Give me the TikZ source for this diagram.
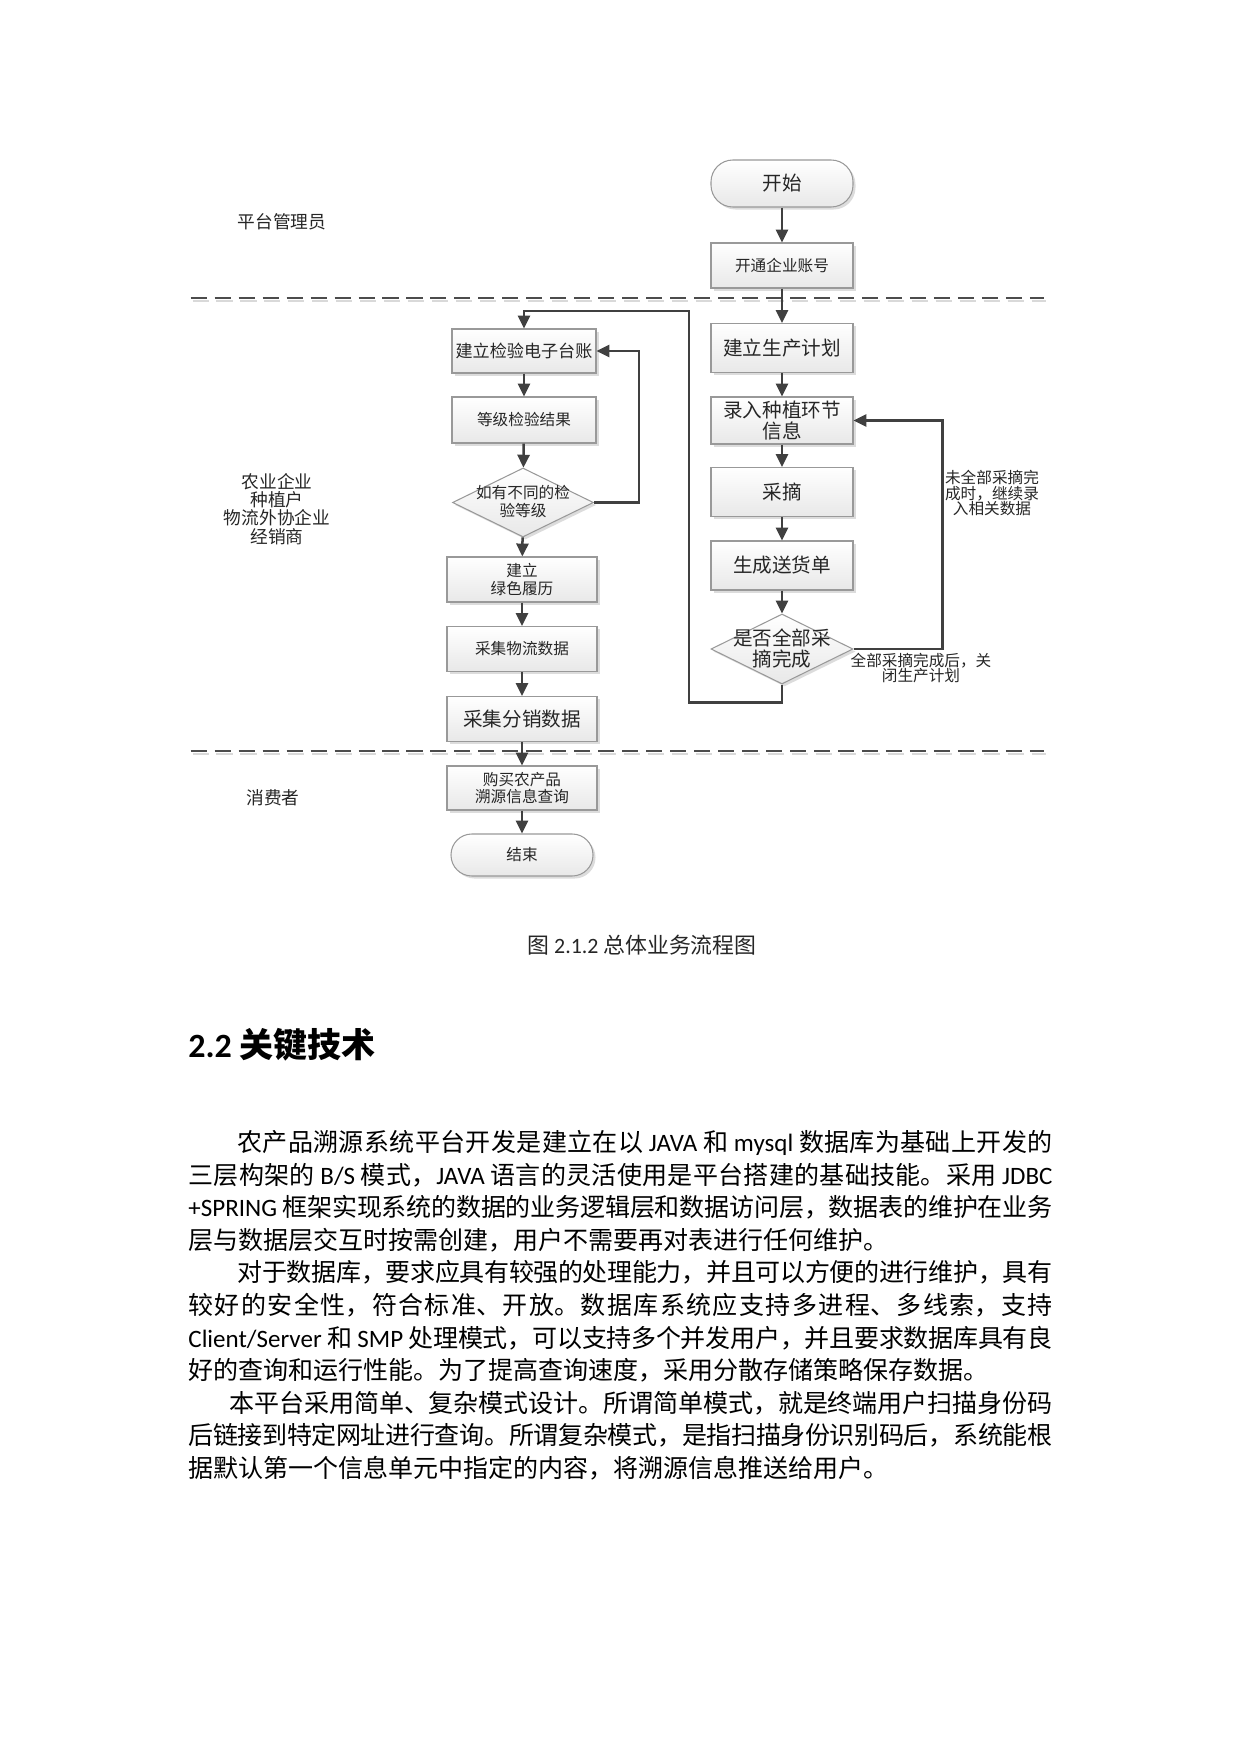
\documentclass[tikz,border=0pt]{standalone}
\usepackage{fontspec}
\setmainfont{Noto Sans CJK SC}
\newfontfamily\latf{Carlito}
\usetikzlibrary{shapes.geometric,arrows.meta,shadows}
\XeTeXlinebreaklocale "zh"
\XeTeXlinebreakskip=0pt plus 3pt minus 1pt
\def\pxu{0.4797pt}
\newcommand\lw[1]{\mbox{\latf #1}}
\newcommand\bodyline[4]{\node[anchor=base west,inner sep=0pt,font=\fontsize{12pt}{14pt}\selectfont] (#1) at (#2) {\parbox[b]{#3}{\parindent=0pt\parfillskip=0pt\tolerance=9999 #4}};}
\begin{document}
\begin{tikzpicture}[x=0.4797pt,y=-0.4797pt,
  box/.style={draw=black!40, line width=0.5pt, top color=white, bottom color=black!9,
    drop shadow={shadow xshift=1.2pt,shadow yshift=-1.2pt,opacity=0.3,fill=black!45},
    inner sep=0pt, text=black!85, align=center},
  rbox/.style={box, minimum width=142*\pxu},
  lbox/.style={box, minimum width=144*\pxu},
  wbox/.style={box, minimum width=150*\pxu},
  term/.style={box, rounded corners=10.5pt, minimum width=142*\pxu},
  dia/.style={box, diamond, minimum width=141*\pxu, minimum height=69*\pxu},
  big/.style={font=\fontsize{9.4pt}{10pt}\selectfont},
  small/.style={font=\fontsize{7.5pt}{8.3pt}\selectfont},
  dtext/.style={inner sep=0pt, align=center, text=black!85},
  arr/.style={draw=black!75, line width=1.2pt, -{Triangle[length=6.2pt,width=5.8pt]}},
  dline/.style={draw=black!70, line width=1.2pt, dash pattern=on 7.7pt off 3.8pt},
  dshadow/.style={draw=black!15, line width=1.2pt, dash pattern=on 7.7pt off 3.8pt},
  lab/.style={inner sep=0pt, align=center, text=black!85, font=\fontsize{8.5pt}{8.7pt}\selectfont},
  note/.style={inner sep=0pt, align=center, text=black!85, font=\fontsize{7.5pt}{7.6pt}\selectfont},
  bodytxt/.style={anchor=base west, inner sep=0pt, font=\fontsize{12pt}{14pt}\selectfont}
]
\fill[white] (0,0) rectangle (1241,1754);
\useasboundingbox (0,0) rectangle (1241,1754);

% swimlane separators
\draw[dshadow] (192.5,301) -- (1046,301);
\draw[dline] (190.7,298) -- (1044,298);
\draw[dshadow] (192.5,754) -- (1046,754);
\draw[dline] (190.7,751) -- (1044,751);

% lane labels
\node[lab] (lane1) at (282,222) {平台管理员};
\node[lab] (lane2) at (277,509) {农业企业\\种植户\\物流外协企业\\经销商};
\node[lab] (lane3) at (273,798) {消费者};

% right column
\node[term, big, minimum height=47*\pxu] (start) at (782,183.5) {开始};
\node[rbox, small, minimum height=45*\pxu] (acct) at (782,265.5) {开通企业账号};
\node[rbox, big, minimum height=49*\pxu] (plan) at (782,348) {建立生产计划};
\node[rbox, big, minimum height=47*\pxu] (entry) at (782,420.5) {录入种植环节\\信息};
\node[rbox, big, minimum height=49*\pxu] (pick) at (782,492) {采摘};
\node[rbox, big, minimum height=49*\pxu] (ship) at (782,565.5) {生成送货单};
\node[dia, minimum width=142*\pxu, minimum height=70*\pxu] (dec2) at (782,649) {};
\node[dtext, big] (dec2t) at (782,648.5) {是否全部采\\摘完成};

% left column
\node[lbox, font=\fontsize{8.2pt}{9pt}\selectfont, minimum height=44*\pxu] (audit) at (524,351) {建立检验电子台账};
\node[lbox, small, minimum height=46*\pxu] (grade) at (524,420) {等级检验结果};
\node[dia] (dec1) at (523,502.5) {};
\node[dtext, small] (dec1t) at (523,501.5) {如有不同的检\\验等级};
\node[wbox, small, minimum height=45*\pxu] (green) at (522,579.5) {建立\\绿色履历};
\node[wbox, small, minimum height=45*\pxu] (logi) at (522,649) {采集物流数据};
\node[wbox, big, minimum height=45*\pxu] (dist) at (522,719) {采集分销数据};
\node[wbox, small, minimum height=44*\pxu] (buy) at (522,788) {购买农产品\\溯源信息查询};
\node[term, small, rounded corners=10pt, minimum height=42*\pxu] (end) at (522,855) {结束};

% notes
\node[note] (note1) at (992,493) {未全部采摘完\\成时，继续录\\入相关数据};
\node[note] (note2) at (921,668) {全部采摘完成后，关\\闭生产计划};

% connectors right column
\draw[arr] (start) -- (acct);
\draw[arr] (acct) -- (plan);
\draw[arr] (plan) -- (entry);
\draw[arr] (entry) -- (pick);
\draw[arr] (pick) -- (ship);
\draw[arr] (ship) -- (dec2);
\draw[arr] (dec2.east) -- ++(89,0) |- (entry.east);
\coordinate (bendTL) at (689,311);
\draw[arr] (dec2.south) -- ++(0,18) -| (bendTL) -| (audit.north);

% connectors left column
\draw[arr] (audit) -- (grade);
\draw[arr] (grade) -- (dec1);
\draw[arr] (dec1.east) -- ++(45,0) |- (audit.east);
\draw[arr] (dec1) -- (green);
\draw[arr] (green) -- (logi);
\draw[arr] (logi) -- (dist);
\draw[arr] (dist) -- (buy);
\draw[arr] (buy) -- (end);

% caption
\node[inner sep=0pt, font=\fontsize{10.5pt}{11pt}\selectfont, text=black!85] (cap) at (642,945) {图 \lw{2.1.2} 总体业务流程图};

% heading
\node[anchor=west, inner sep=0pt, font=\bfseries\fontsize{16.3pt}{17pt}\selectfont] (head) at (188,1045) {{\latf\bfseries 2.2} 关键技术};

% body text
\bodyline{b1}{237,1151.5}{391pt}{农产品溯源系统平台开发是建立在以 \lw{JAVA} 和 \lw{mysql} 数据库为基础上开发的}
\bodyline{b2}{188,1184.1}{414.5pt}{三层构架的 \lw{B/S} 模式，\lw{JAVA} 语言的灵活使用是平台搭建的基础技能。采用 \lw{JDBC}}
\bodyline{b3}{188,1216.7}{414.5pt}{\lw{+SPRING} 框架实现系统的数据的业务逻辑层和数据访问层，数据表的维护在业务}
\node[bodytxt] (b4) at (188,1249.3) {层与数据层交互时按需创建，用户不需要再对表进行任何维护。};
\bodyline{b5}{237,1281.9}{391pt}{对于数据库，要求应具有较强的处理能力，并且可以方便的进行维护，具有}
\bodyline{b6}{188,1314.5}{414.5pt}{较好的安全性，符合标准、开放。数据库系统应支持多进程、多线索，支持}
\bodyline{b7}{188,1347.1}{414.5pt}{\lw{Client/Server} 和 \lw{SMP} 处理模式，可以支持多个并发用户，并且要求数据库具有良}
\node[bodytxt] (b8) at (188,1379.7) {好的查询和运行性能。为了提高查询速度，采用分散存储策略保存数据。};
\bodyline{b9}{229,1412.3}{394.8pt}{本平台采用简单、复杂模式设计。所谓简单模式，就是终端用户扫描身份码}
\bodyline{b10}{188,1444.9}{414.5pt}{后链接到特定网址进行查询。所谓复杂模式，是指扫描身份识别码后，系统能根}
\node[bodytxt] (b11) at (188,1477.5) {据默认第一个信息单元中指定的内容，将溯源信息推送给用户。};
\end{tikzpicture}
\end{document}
